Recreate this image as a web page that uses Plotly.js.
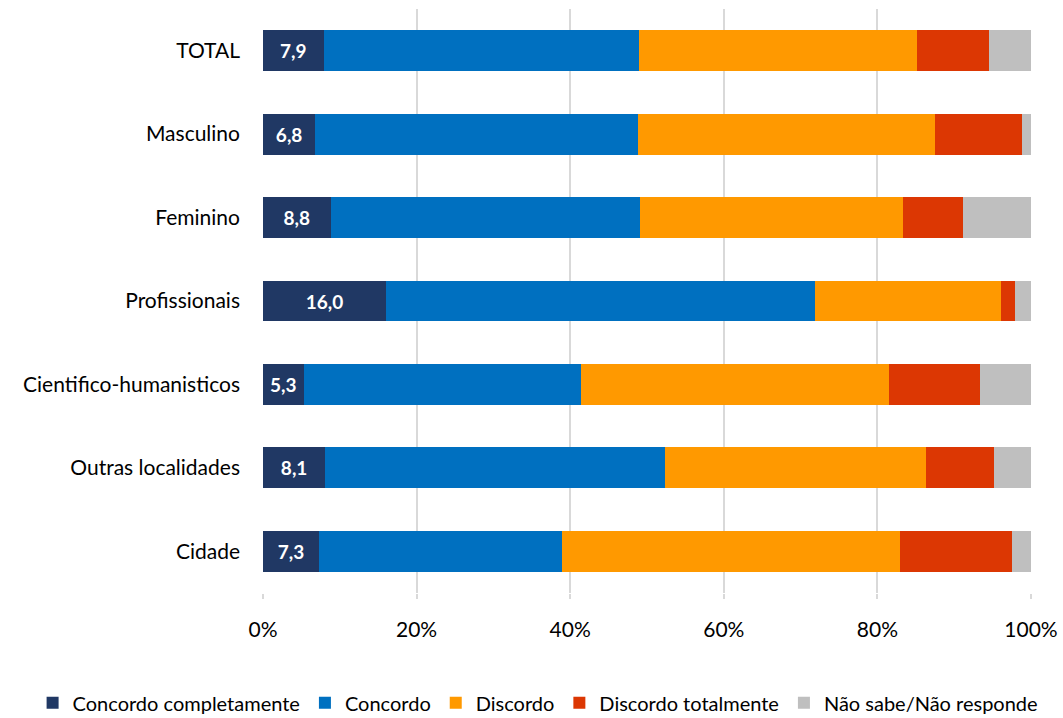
<!DOCTYPE html>
<html>
<head>
<meta charset="utf-8">
<script src="https://cdn.plot.ly/plotly-3.0.1.min.js"></script>
<style>html,body{margin:0;padding:0;background:#fff;}#chart{width:1063px;height:718px;}</style>
</head>
<body>
<div id="chart"></div>
<script>
const categories = ["TOTAL", "Masculino", "Feminino", "Profissionais", "Cientifico-humanisticos", "Outras localidades", "Cidade"];
const seriesNames = ["Concordo completamente", "Concordo", "Discordo", "Discordo totalmente", "Não sabe/Não responde"];
const concordoCompletamente = [7.9, 6.8, 8.8, 16.0, 5.3, 8.1, 7.3];
const concordo = [41.1, 42.0, 40.3, 55.9, 36.1, 44.2, 31.6];
const discordo = [36.2, 38.7, 34.2, 24.2, 40.1, 34.0, 44.0];
const discordoTotalmente = [9.3, 11.3, 7.8, 1.8, 11.9, 8.9, 14.6];
const naoSabe = [5.5, 1.2, 8.9, 2.1, 6.6, 4.8, 2.5];
const xTickVals = [0, 20, 40, 60, 80, 100];
const xTickText = ["0%", "20%", "40%", "60%", "80%", "100%"];

const colors = ["#203864", "#0070c0", "#ff9900", "#dc3703", "#bfbfbf"];
const values = [concordoCompletamente, concordo, discordo, discordoTotalmente, naoSabe];
const font = "Lato, 'Open Sans', sans-serif";

const traces = values.map((v, i) => {
  const t = {
    type: "bar",
    orientation: "h",
    name: seriesNames[i],
    y: categories,
    x: v,
    marker: {color: colors[i], line: {width: 0}},
    hoverinfo: "x+y+name"
  };
  if (i === 0) {
    t.text = v.map(n => n.toFixed(1).replace(".", ","));
    t.textposition = "inside";
    t.insidetextanchor = "middle";
    t.textangle = 0;
    t.textfont = {color: "#ffffff", size: 19, family: font, weight: "bold"};
    t.constraintext = "none";
  } else {
    t.textposition = "none";
  }
  return t;
});

const layout = {
  width: 1063,
  height: 718,
  barmode: "stack",
  bargap: 0.51,
  paper_bgcolor: "#ffffff",
  plot_bgcolor: "#ffffff",
  margin: {l: 263, r: 32, t: 9, b: 125, autoexpand: false},
  font: {family: font, size: 21, color: "#000000"},
  xaxis: {
    range: [0, 100],
    tickvals: xTickVals,
    ticktext: xTickText,
    showgrid: true,
    gridcolor: "#d9d9d9",
    gridwidth: 2,
    zeroline: false,
    showline: false,
    ticks: "outside",
    ticklen: 5,
    tickwidth: 2,
    tickcolor: "#d9d9d9",
    ticklabelstandoff: 13,
    tickfont: {size: 21, family: font, color: "#000000"},
    fixedrange: true
  },
  yaxis: {
    autorange: "reversed",
    showgrid: false,
    zeroline: false,
    showline: false,
    ticks: "",
    ticklabelstandoff: 22,
    tickfont: {size: 21, family: font, color: "#000000"},
    fixedrange: true
  },
  legend: {
    orientation: "h",
    x: -0.30,
    xanchor: "left",
    y: -0.188,
    yanchor: "middle",
    font: {size: 20, family: font, color: "#000000"},
    itemwidth: 30,
    traceorder: "normal",
    tracegroupgap: 0
  },
  showlegend: true
};

Plotly.newPlot("chart", traces, layout, {displayModeBar: false, staticPlot: false});
</script>
</body>
</html>
